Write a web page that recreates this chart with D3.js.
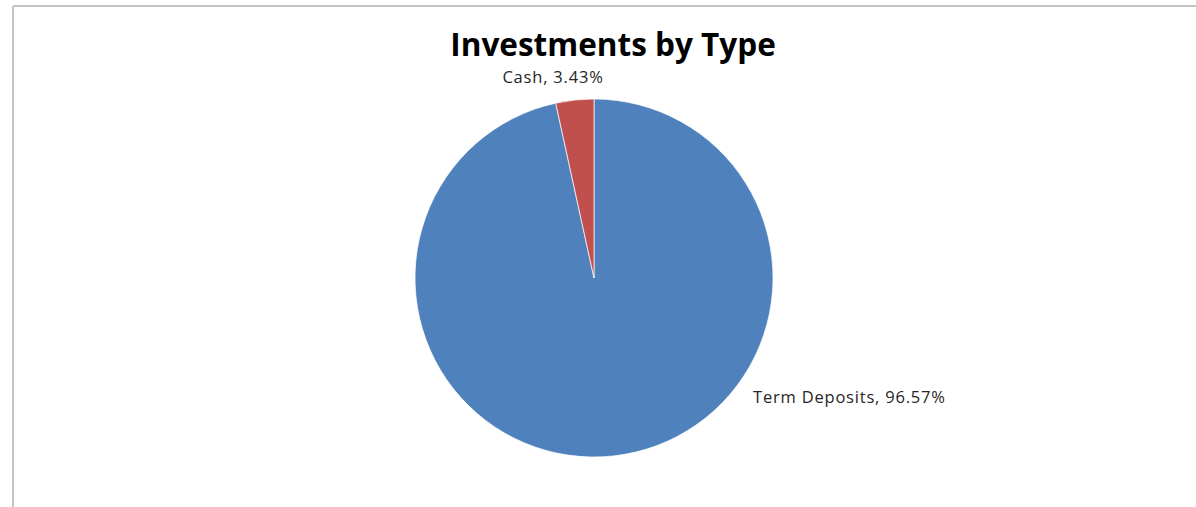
<!DOCTYPE html>
<html>
<head>
<meta charset="utf-8">
<script src="https://cdn.jsdelivr.net/npm/d3@7"></script>
<style>
  body { margin: 0; background: #fff; }
  svg { display: block; }
</style>
</head>
<body>
<svg id="chart" width="1196" height="507"></svg>
<script>
var categories = ["Term Deposits", "Cash"];
var values = [96.57, 3.43];
var labels = ["Term Deposits, 96.57%", "Cash, 3.43%"];
var colors = ["#4F81BD", "#C0504D"];

var svg = d3.select("#chart");
var width = +svg.attr("width");
var height = +svg.attr("height");

// chart area frame (only top and left edges visible)
svg.append("line")
    .attr("x1", 13).attr("y1", 6).attr("x2", width).attr("y2", 6)
    .style("stroke", "#c4c4c4").style("stroke-width", 2);
svg.append("line")
    .attr("x1", 13).attr("y1", 6).attr("x2", 13).attr("y2", height)
    .style("stroke", "#c4c4c4").style("stroke-width", 2);

svg.append("text")
    .attr("x", 613)
    .attr("y", 56)
    .attr("text-anchor", "middle")
    .style("font-family", "'Open Sans', sans-serif")
    .style("font-weight", "bold")
    .style("font-size", "31.5px")
    .style("fill", "#000")
    .text("Investments by Type");

var cx = 594, cy = 278, r = 179;

var pie = d3.pie().sort(null).value(function(d) { return d; });
var arc = d3.arc().innerRadius(0).outerRadius(r);
var arcs = pie(values);

var g = svg.append("g").attr("transform", "translate(" + cx + "," + cy + ")");

g.selectAll("path")
    .data(arcs)
    .enter().append("path")
    .attr("d", arc)
    .style("fill", function(d, i) { return colors[i]; })
    .style("stroke", "#fff")
    .style("stroke-width", 0.7);

// label positions, outside the pie
var labelPos = [
    { x: 753, y: 403, anchor: "start" },
    { x: 553, y: 83, anchor: "middle" }
];

svg.selectAll("text.lbl")
    .data(arcs)
    .enter().append("text")
    .attr("class", "lbl")
    .attr("x", function(d, i) { return labelPos[i].x; })
    .attr("y", function(d, i) { return labelPos[i].y; })
    .attr("text-anchor", function(d, i) { return labelPos[i].anchor; })
    .style("font-family", "'Open Sans', sans-serif")
    .style("font-size", "16.5px")
    .style("letter-spacing", "0.8px")
    .style("fill", "#262626")
    .text(function(d, i) { return labels[i]; });
</script>
</body>
</html>
